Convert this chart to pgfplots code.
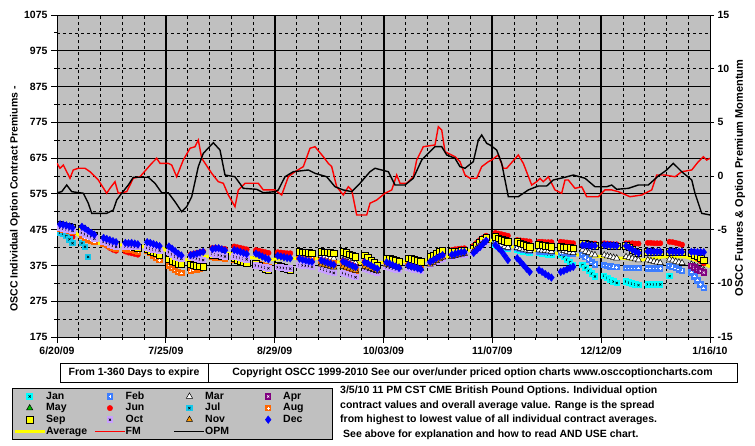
\documentclass[border=0pt]{standalone}
\usepackage{fontspec}
\setmainfont{Liberation Sans}
\usepackage{pgfplots}
\pgfplotsset{compat=1.18}

\definecolor{bggray}{RGB}{192,192,192}
\definecolor{janc}{RGB}{0,255,255}
\definecolor{julc}{RGB}{20,200,235}
\definecolor{febc}{RGB}{60,125,255}
\definecolor{aprc}{RGB}{128,0,128}
\definecolor{mayc}{RGB}{0,190,0}
\definecolor{augc}{RGB}{255,102,0}
\definecolor{octc}{RGB}{200,160,255}
\definecolor{novc}{RGB}{255,153,0}
\definecolor{decc}{RGB}{0,0,255}
\definecolor{avgc}{RGB}{255,255,0}

\newcommand\lf{\fontsize{10.5}{12}\selectfont\bfseries}

\pgfdeclareplotmark{sqx}{%
 \pgfpathrectangle{\pgfqpoint{-\pgfplotmarksize}{-\pgfplotmarksize}}{\pgfqpoint{2\pgfplotmarksize}{2\pgfplotmarksize}}%
 \pgfusepathqfill
 \pgfsetstrokecolor{black}\pgfsetlinewidth{0.5pt}%
 \pgfpathmoveto{\pgfqpoint{-0.35\pgfplotmarksize}{-0.35\pgfplotmarksize}}%
 \pgfpathlineto{\pgfqpoint{0.35\pgfplotmarksize}{0.35\pgfplotmarksize}}%
 \pgfpathmoveto{\pgfqpoint{-0.35\pgfplotmarksize}{0.35\pgfplotmarksize}}%
 \pgfpathlineto{\pgfqpoint{0.35\pgfplotmarksize}{-0.35\pgfplotmarksize}}%
 \pgfusepathqstroke}
\pgfdeclareplotmark{sqxw}{%
 \pgfpathrectangle{\pgfqpoint{-\pgfplotmarksize}{-\pgfplotmarksize}}{\pgfqpoint{2\pgfplotmarksize}{2\pgfplotmarksize}}%
 \pgfusepathqfill
 \pgfsetstrokecolor{white}\pgfsetlinewidth{0.5pt}%
 \pgfpathmoveto{\pgfqpoint{-0.35\pgfplotmarksize}{-0.35\pgfplotmarksize}}%
 \pgfpathlineto{\pgfqpoint{0.35\pgfplotmarksize}{0.35\pgfplotmarksize}}%
 \pgfpathmoveto{\pgfqpoint{-0.35\pgfplotmarksize}{0.35\pgfplotmarksize}}%
 \pgfpathlineto{\pgfqpoint{0.35\pgfplotmarksize}{-0.35\pgfplotmarksize}}%
 \pgfusepathqstroke}
\pgfdeclareplotmark{sqplus}{%
 \pgfpathrectangle{\pgfqpoint{-\pgfplotmarksize}{-\pgfplotmarksize}}{\pgfqpoint{2\pgfplotmarksize}{2\pgfplotmarksize}}%
 \pgfusepathqfill
 \pgfsetstrokecolor{white}\pgfsetlinewidth{0.6pt}%
 \pgfpathmoveto{\pgfqpoint{-0.45\pgfplotmarksize}{0pt}}%
 \pgfpathlineto{\pgfqpoint{0.45\pgfplotmarksize}{0pt}}%
 \pgfpathmoveto{\pgfqpoint{0pt}{0.45\pgfplotmarksize}}%
 \pgfpathlineto{\pgfqpoint{0pt}{-0.45\pgfplotmarksize}}%
 \pgfusepathqstroke}

\pgfplotsset{
 mlegend/.style={legend image code/.code={\path[draw=none,fill=none] (0pt,-3pt) rectangle (30pt,3pt); \draw[##1] plot coordinates {(15pt,0pt)};}},
 llegend/.style={legend image code/.code={\draw[##1] (0pt,0pt) -- (30pt,0pt);}},
}

\begin{document}
\begin{tikzpicture}
\useasboundingbox (-57pt,-109pt) rectangle (698pt,337pt);
\begin{axis}[
 scale only axis, width=653pt, height=322pt,
 xmin=0, xmax=210, ymin=175, ymax=1075,
 axis background/.style={fill=bggray},
 xtick={35,70,105,140,175},
 xticklabels={7/25/09,8/29/09,10/03/09,11/07/09,12/12/09},
 extra x ticks={0,210}, extra x tick labels={6/20/09,1/16/10},
 extra x tick style={grid=none},
 minor xtick={7,14,21,28,42,49,56,63,77,84,91,98,112,119,126,133,147,154,161,168,182,189,196,203},
 ytick={175,275,375,475,575,675,775,875,975,1075},
 yticklabels={175,275,375,475,575,675,775,875,975,1075},
 minor ytick={225,325,425,525,625,725,825,925,1025},
 grid=both,
 major x grid style={black, line width=2pt},
 major y grid style={black, line width=0.9pt},
 minor grid style={black, line width=0.7pt, dash pattern=on 3pt off 3pt},
 tick align=outside, xtick pos=left, ytick pos=left,
 major tick length=6pt, minor tick length=3pt,
 tick style={black, line width=0.8pt},
 ticklabel style={font=\lf},
 axis line style={black, line width=0.8pt},
 legend columns=4,
 legend style={at={(0,0)}, anchor=north west, xshift=-45pt, yshift=-51pt,
   fill=bggray, draw=black, font=\lf, inner xsep=1pt, inner ysep=2.5pt,
   row sep=0pt, column sep=0pt,
   nodes={text width=48pt, inner xsep=0pt, inner ysep=1pt, text height=7.6pt, text depth=2pt}},
 legend cell align=left,
]
% Average (drawn below markers)
\addplot[avgc, line width=3pt, forget plot] coordinates {
(0,476) (5,470) (10,445) (13,437) (20,433) (27,428) (34,422) (41,390) (48,400) (55,409) (62,397) (69,392) (77,395) (84,395) (90,385) (97,382) (104,383) (111,385) (119,390) (126,400) (133,418) (140,446) (146,428) (153,418) (161,409) (168,404) (175,400) (182,395) (188,390) (195,399) (202,399) (207,385) (210,371)};

% Jan
\addplot[janc, only marks, mark=sqx, mark size=3.2pt, mlegend] coordinates {
(141,432)(142,428)(143,425)(144,423)(145,421)
(148,418)(149,416)(150,414)(151,412)(152,410)
(155,409)(156,408)(157,407)(158,406)(159,405)
(162,404)(163,398)(164,391)(165,384)(166,377)
(169,376)(170,368)(171,360)(172,352)(173,344)
(176,346)(177,340)(178,334)(179,330)(180,326)
(183,330)(184,327)(185,324)(186,322)(187,320)
(190,322)(191,322)(192,322)(193,322)(194,322)
(197,345)};
\addlegendentry{Jan}
% Feb
\addplot[febc, only marks, mark=sqplus, mark size=3.2pt, mlegend] coordinates {
(141,445)(142,440)(143,435)(144,430)(145,425)
(148,425)(149,422)(150,420)(151,418)(152,416)
(155,414)(156,413)(157,412)(158,412)(159,412)
(162,412)(163,410)(164,409)(165,408)(166,407)
(169,405)(170,398)(171,391)(172,384)(173,378)
(176,376)(177,374)(178,372)(179,371)(180,370)
(183,368)(184,368)(185,368)(186,368)(187,368)
(190,367)(191,367)(192,367)(193,367)(194,367)
(197,374)(198,371)(199,368)(200,364)(201,360)
(204,355)(205,344)(206,333)(207,322)(208,312)};
\addlegendentry{Feb}
% Mar
\addplot[black, only marks, mark=triangle*, mark size=3.6pt, mark options={fill=white, draw=black, line width=0.5pt}, mlegend] coordinates {
(85,402)(86,400)(87,398)(88,396)(89,395)
(92,390)(93,388)(94,386)(95,384)(96,382)
(99,388)(100,385)(101,382)(102,379)(103,376)
(141,440)(142,436)(143,432)(144,428)(145,425)
(148,424)(149,422)(150,420)(151,418)(152,416)
(155,418)(156,417)(157,416)(158,415)(159,414)
(162,418)(163,416)(164,414)(165,412)(166,410)
(169,418)(170,414)(171,410)(172,406)(173,404)
(176,404)(177,401)(178,399)(179,397)(180,395)
(183,399)(184,397)(185,395)(186,393)(187,390)
(190,390)(191,388)(192,386)(193,384)(194,382)
(197,392)(198,389)(199,386)(200,384)(201,382)
(204,378)(205,374)(206,370)(207,366)(208,362)};
\addlegendentry{Mar}
% Apr
\addplot[aprc, only marks, mark=sqxw, mark size=3.2pt, mlegend] coordinates {
(204,374)(205,369)(206,364)(207,359)(208,355)};
\addlegendentry{Apr}
% May
\addplot[black, only marks, mark=triangle*, mark size=3.6pt, mark options={fill=mayc, draw=black, line width=0.5pt}, mlegend] coordinates {
(148,436)(149,435)(150,434)(151,433)(152,432)};
\addlegendentry{May}
% Jun
\addplot[red, only marks, mark=*, mark size=2.7pt, mlegend] coordinates {
(1,470)(2,466)(3,462)(4,458)(5,455)
(8,458)(9,456)(10,455)(11,453)(12,452)
(15,436)(16,430)(17,424)(18,419)(19,416)
(22,414)(23,411)(24,409)(25,407)(26,405)
(29,420)(30,418)(31,415)(32,412)(33,410)
(36,412)(37,408)(38,404)(39,400)(40,397)
(43,406)(44,408)(45,410)(46,412)(47,414)
(50,424)(51,424)(52,423)(53,422)(54,421)
(57,428)(58,426)(59,424)(60,422)(61,420)
(64,418)(65,416)(66,414)(67,412)(68,410)
(71,412)(72,411)(73,410)(74,409)(75,409)
(78,396)(79,393)(80,391)(81,389)(82,387)
(85,391)(86,388)(87,385)(88,382)(89,379)
(92,388)(93,384)(94,380)(95,376)(96,372)
(99,386)(100,382)(101,377)(102,372)(103,368)
(106,386)(107,382)(108,378)(109,374)(110,370)
(113,377)(114,374)(115,372)(116,369)(117,366)
(120,402)(121,404)(122,406)(123,408)(124,410)
(127,418)(128,420)(129,421)(130,422)(131,423)
(134,430)(135,438)(136,446)(137,452)(138,458)
(141,466)(142,464)(143,462)(144,460)(145,458)
(148,446)(149,445)(150,444)(151,443)(152,442)
(155,441)(156,441)(157,440)(158,440)(159,440)
(162,441)(163,440)(164,439)(165,438)(166,437)
(169,438)(170,437)(171,437)(172,436)(173,436)
(176,437)(177,436)(178,435)(179,434)(180,434)
(183,437)(184,437)(185,437)(186,436)(187,436)
(190,438)(191,438)(192,437)(193,437)(194,437)
(197,441)(198,440)(199,438)(200,436)(201,433)
(204,410)(205,402)(206,394)(207,387)(208,381)};
\addlegendentry{Jun}
% Jul
\addplot[julc, only marks, mark=sqx, mark size=3.2pt, mlegend] coordinates {
(1,466)(2,464)(3,457)(4,448)(5,437)
(8,437)(9,427)(10,399)};
\addlegendentry{Jul}
% Aug
\addplot[augc, only marks, mark=sqplus, mark size=3.2pt, mlegend] coordinates {
(1,478)(2,476)(3,474)(4,471)(5,468)
(8,458)(9,452)(10,447)(11,444)(12,441)
(15,436)(16,432)(17,428)(18,424)(19,421)
(22,422)(23,420)(24,418)(25,416)(26,414)
(29,416)(30,410)(31,402)(32,396)(33,390)
(36,374)(37,368)(38,362)(39,357)(40,354)
(43,360)(44,362)(45,364)(46,366)(47,368)
(50,398)(51,397)(52,396)(53,395)(54,394)
(57,392)(58,389)(59,386)(60,383)(61,380)
(64,382)(65,379)(66,376)(67,373)(68,370)
(71,372)(72,370)(73,368)(74,366)(75,365)
(78,398)(79,397)(80,396)(81,395)(82,394)
(85,388)(86,386)(87,384)(88,382)(89,380)
(92,376)(93,372)(94,368)(95,364)(96,360)
(99,378)(100,374)(101,370)(102,366)(103,362)
(106,376)(107,374)(108,372)(109,370)(110,368)
(113,372)(114,370)(115,368)(116,366)(117,364)
(120,380)(121,385)(122,390)(123,395)(124,400)
(127,402)(128,404)(129,406)(130,408)(131,409)
(134,418)(135,426)(136,434)(137,440)(138,446)};
\addlegendentry{Aug}
% Sep
\addplot[black, only marks, mark=square*, mark size=3.2pt, mark options={fill=avgc, draw=black, line width=0.7pt}, mlegend] coordinates {
(1,488)(2,487)(3,485)(4,483)(5,480)
(8,478)(9,472)(10,467)(11,462)(12,458)
(15,446)(16,443)(17,440)(18,437)(19,434)
(22,432)(23,430)(24,428)(25,426)(26,424)
(29,420)(30,416)(31,412)(32,408)(33,404)
(36,392)(37,388)(38,384)(39,380)(40,378)
(43,378)(44,376)(45,374)(46,372)(47,371)
(50,405)(51,404)(52,403)(53,402)(54,401)
(57,394)(58,390)(59,387)(60,384)(61,381)
(64,380)(65,375)(66,370)(67,366)(68,362)
(71,376)(72,372)(73,368)(74,365)(75,362)
(78,413)(79,412)(80,411)(81,410)(82,409)
(85,413)(86,412)(87,411)(88,410)(89,409)
(92,413)(93,410)(94,406)(95,403)(96,399)
(99,404)(100,397)(101,390)(102,383)(103,376)
(106,395)(107,393)(108,391)(109,388)(110,385)
(113,395)(114,393)(115,391)(116,388)(117,385)
(120,399)(121,404)(122,409)(123,414)(124,418)
(127,413)(128,414)(129,415)(130,416)(131,418)
(134,423)(135,430)(136,438)(137,446)(138,453)
(141,455)(142,451)(143,447)(144,444)(145,441)
(148,441)(149,437)(150,434)(151,430)(152,427)
(155,432)(156,431)(157,430)(158,428)(159,427)
(162,427)(163,426)(164,425)(165,424)(166,423)
(169,437)(170,435)(171,433)(172,431)(173,430)
(176,431)(177,431)(178,430)(179,430)(180,429)
(183,430)(184,425)(185,419)(186,414)(187,410)
(190,413)(191,413)(192,412)(193,412)(194,412)
(197,413)(198,413)(199,412)(200,412)(201,412)
(204,410)(205,405)(206,400)(207,395)(208,390)};
\addlegendentry{Sep}
% Oct
\addplot[octc, only marks, mark=sqx, mark size=3.2pt, mlegend] coordinates {
(1,480)(2,478)(3,476)(4,474)(5,472)
(8,466)(9,462)(10,458)(11,454)(12,450)
(15,441)(16,438)(17,434)(18,430)(19,427)
(22,428)(23,427)(24,427)(25,426)(26,426)
(29,424)(30,422)(31,420)(32,418)(33,416)
(36,412)(37,406)(38,400)(39,396)(40,394)
(43,398)(44,396)(45,394)(46,392)(47,390)
(50,408)(51,406)(52,404)(53,402)(54,400)
(57,400)(58,398)(59,396)(60,394)(61,392)
(64,375)(65,373)(66,371)(67,369)(68,367)
(71,370)(72,369)(73,368)(74,367)(75,366)
(78,376)(79,375)(80,374)(81,373)(82,371)
(85,366)(86,363)(87,360)(88,357)(89,354)
(92,354)(93,351)(94,348)(95,345)(96,342)
(99,365)(100,362)(101,359)(102,357)(103,355)
(106,370)(107,368)(108,366)(109,364)(110,362)
(113,368)(114,366)(115,364)(116,362)(117,360)
(120,378)(121,382)(122,386)(123,390)(124,394)
(127,400)(128,402)(129,404)(130,405)(131,406)
(134,412)(135,420)(136,428)(137,436)(138,442)};
\addlegendentry{Oct}
% Nov
\addplot[black, only marks, mark=triangle*, mark size=3.6pt, mark options={fill=novc, draw=black, line width=0.5pt}, mlegend] coordinates {
(85,378)(86,376)(87,374)(88,372)(89,370)
(92,372)(93,370)(94,367)(95,364)(96,361)
(99,372)(100,370)(101,366)(102,363)(103,360)
(106,378)(107,376)(108,374)(109,372)(110,370)
(113,374)(114,372)(115,370)(116,368)(117,366)
(120,378)(121,383)(122,388)(123,393)(124,398)
(127,400)(128,402)(129,404)(130,406)(131,408)
(134,416)(135,424)(136,432)(137,438)(138,444)};
\addlegendentry{Nov}
% Dec (near contract)
\addplot[decc, only marks, mark=diamond*, mark size=3.8pt, mlegend] coordinates {
(1,490)(2,489)(3,487)(4,484)(5,481)
(8,483)(9,478)(10,472)(11,466)(12,461)
(15,452)(16,449)(17,446)(18,443)(19,440)
(22,438)(23,437)(24,438)(25,436)(26,434)
(29,440)(30,438)(31,435)(32,432)(33,429)
(36,428)(37,422)(38,415)(39,408)(40,403)
(43,404)(44,406)(45,408)(46,411)(47,413)
(50,421)(51,423)(52,423)(53,420)(54,417)
(57,418)(58,416)(59,413)(60,410)(61,407)
(64,408)(65,404)(66,400)(67,396)(68,392)
(71,402)(72,400)(73,398)(74,396)(75,395)
(78,394)(79,391)(80,389)(81,387)(82,385)
(85,389)(86,386)(87,383)(88,380)(89,377)
(92,386)(93,382)(94,378)(95,374)(96,370)
(99,384)(100,380)(101,375)(102,370)(103,366)
(106,384)(107,380)(108,376)(109,372)(110,368)
(113,375)(114,372)(115,370)(116,367)(117,364)
(120,385)(121,390)(122,395)(123,400)(124,404)
(127,405)(128,407)(129,410)(130,412)(131,413)
(134,410)(135,418)(136,426)(137,435)(138,444)
(141,432)(142,423)(143,414)(144,402)(145,390)
(148,395)(149,386)(150,376)(151,366)(152,357)
(155,362)(156,357)(157,351)(158,346)(159,341)
(162,357)(163,360)(164,364)(165,368)(166,371)};
\addlegendentry{Dec}
% Dec (next year's contract)
\addplot[decc, only marks, mark=diamond*, mark size=3.8pt, forget plot] coordinates {
(169,432)(170,432)(171,431)(172,430)(173,430)
(176,432)(177,432)(178,431)(179,431)(180,430)
(183,430)(184,425)(185,419)(186,414)(187,410)
(190,414)(191,414)(192,413)(193,413)(194,413)
(197,414)(198,414)(199,413)(200,413)(201,413)
(204,413)(205,413)(206,412)(207,412)(208,412)};
\addlegendimage{avgc, line width=3pt, llegend}
\addlegendentry{Average}
\addlegendimage{red, line width=1.5pt, llegend}
\addlegendentry{FM}
\addlegendimage{black, line width=1.5pt, llegend}
\addlegendentry{OPM}
\end{axis}

\begin{axis}[
 scale only axis, width=653pt, height=322pt,
 xmin=0, xmax=210, ymin=-15, ymax=15,
 axis y line*=right, axis x line=none,
 ytick={-15,-10,-5,0,5,10,15},
 yticklabels={-15,-10,-5,0,5,10,15},
 tick align=outside, major tick length=4pt,
 tick style={black, line width=0.8pt},
 ticklabel style={font=\lf},
 axis line style={black, line width=1pt, -},
]
% FM
\addplot[red, line width=1.4pt] coordinates {
(0,1.18)(0.96,0.72)(2.03,1.02)(4.18,-0.21)(5.24,0.56)(6.85,0.72)(9.01,0.72)(10.61,0.40)(13.28,-0.37)(15.98,-1.61)(17.04,-1.15)(18.65,-0.53)(19.71,-1.61)(22.42,-1.46)(24.54,-0.21)(26.69,-0.07)(30.45,1.18)(32.06,1.65)(33.13,1.18)(35.79,1.18)(36.89,1.02)(38.49,-0.07)(40.62,1.49)(42.77,2.58)(44.38,2.73)(45.44,3.35)(46.54,1.65)(49.75,0.25)(51.87,-0.53)(53.48,-0.68)(55.09,-1.77)(57.24,-2.86)(58.31,-1.30)(60.46,-0.68)(64.74,-0.68)(66.34,-1.30)(70.11,-1.30)(72.26,-1.77)(74.39,-0.07)(76.54,0.40)(79.21,0.87)(81.36,2.58)(82.97,2.73)(85.64,1.80)(87.25,1.18)(88.34,0.87)(89.95,-1.00)(92.07,-1.77)(93.68,-1.00)(94.77,-1.30)(96.38,-3.63)(99.60,-3.63)(100.66,-2.54)(102.81,-2.24)(105.48,-1.61)(107.64,-1.30)(109.25,0.09)(110.31,-0.68)(112.46,-0.68)(114.59,-0.07)(115.68,1.49)(117.80,2.73)(121.56,2.89)(122.63,4.59)(123.72,4.29)(124.78,2.26)(127.99,1.80)(129.60,1.33)(131.21,0.09)(132.82,-0.21)(134.97,-0.21)(136.58,0.87)(138.71,1.33)(139.80,1.49)(141.92,1.96)(143.53,0.72)(144.62,0.72)(148.35,1.96)(149.96,1.18)(152.66,-0.84)(154.27,-0.53)(155.33,-0.21)(156.39,-0.53)(158.00,-0.07)(160.15,-1.30)(162.31,-1.61)(163.37,-0.37)(164.43,-0.37)(166.59,-1.15)(168.74,-1.00)(170.35,-1.93)(174.08,-1.93)(176.23,-1.30)(178.39,-1.30)(180.51,-1.46)(184.27,-1.93)(188.04,-1.77)(191.25,-1.30)(192.86,0.09)(195.53,0.09)(198.75,-0.07)(200.90,0.40)(204.12,0.56)(206.24,1.33)(207.85,1.80)(208.94,1.49)(210,1.65)};
% OPM
\addplot[black, line width=1.4pt] coordinates {
(0,-1.56)(1.51,-1.46)(3.12,-0.84)(4.73,-1.46)(8.46,-1.61)(10.07,-2.54)(11.16,-3.48)(15.98,-3.48)(18.11,-3.17)(19.20,-2.24)(20.81,-1.61)(22.93,-0.84)(24.54,-0.12)(29.36,-0.12)(31.52,-0.68)(33.67,-1.56)(35.79,-1.56)(37.95,-2.40)(40.10,-3.33)(41.71,-2.86)(43.32,-1.93)(45.44,0.87)(47.05,2.11)(50.27,3.10)(52.42,2.42)(54.03,0.09)(57.24,-0.07)(59.91,-1.15)(64.22,-1.24)(66.34,-1.56)(70.11,-1.46)(71.17,-1.30)(73.32,-0.07)(75.99,0.40)(80.82,0.56)(82.97,0.25)(86.73,-0.07)(89.40,-1.00)(92.07,-1.30)(94.77,-1.46)(97.44,-0.68)(100.66,0.40)(102.27,0.72)(106.55,0.40)(108.70,-0.84)(111.92,-0.84)(114.59,-0.21)(117.29,1.49)(121.56,2.73)(123.72,2.73)(125.33,1.96)(127.99,1.65)(129.60,0.87)(131.21,0.72)(133.88,1.33)(135.49,3.35)(136.58,3.82)(138.19,3.04)(139.25,2.89)(141.40,2.42)(143.01,1.18)(145.14,-1.93)(148.35,-1.93)(151.57,-1.30)(154.79,-0.93)(157.49,-0.93)(159.61,-0.37)(163.37,-0.12)(166.04,0.09)(169.80,-0.21)(173.02,-1.00)(176.78,-1.00)(178.39,-0.84)(180.00,-1.24)(183.73,-1.15)(186.95,-0.84)(190.16,-0.84)(193.38,0.00)(196.08,0.56)(198.20,1.18)(200.90,0.40)(204.12,-0.37)(205.18,-1.61)(207.33,-3.48)(210,-3.63)};
\end{axis}

\node[rotate=90, font=\lf] at (-42pt,138pt) {OSCC Individual Option Contract Premiums -};
\node[rotate=90, font=\fontsize{11}{13}\selectfont\bfseries] at (683pt,159pt) {OSCC Futures \& Option Premium Momentum};
\node[draw=black, line width=0.8pt, minimum width=148pt, minimum height=19pt, inner sep=0pt, font=\lf] at (77pt,-35.5pt) {From 1-360 Days to expire};
\node[draw=black, line width=0.8pt, minimum width=529pt, minimum height=19pt, inner sep=0pt, font=\lf] at (415.5pt,-35.5pt) {Copyright OSCC 1999-2010 See our over/under priced option charts www.osccoptioncharts.com};
\node[anchor=base west, inner sep=0pt, font=\lf] at (283pt,-57pt) {3/5/10 11 PM CST CME British Pound Options. Individual option};
\node[anchor=base west, inner sep=0pt, font=\lf] at (283pt,-71.5pt) {contract values and overall average value. Range is the spread};
\node[anchor=base west, inner sep=0pt, font=\lf] at (283pt,-86pt) {from highest to lowest value of all individual contract averages.};
\node[anchor=base west, inner sep=0pt, font=\lf] at (286pt,-100.5pt) {See above for explanation and how to read AND USE chart.};
\end{tikzpicture}
\end{document}
